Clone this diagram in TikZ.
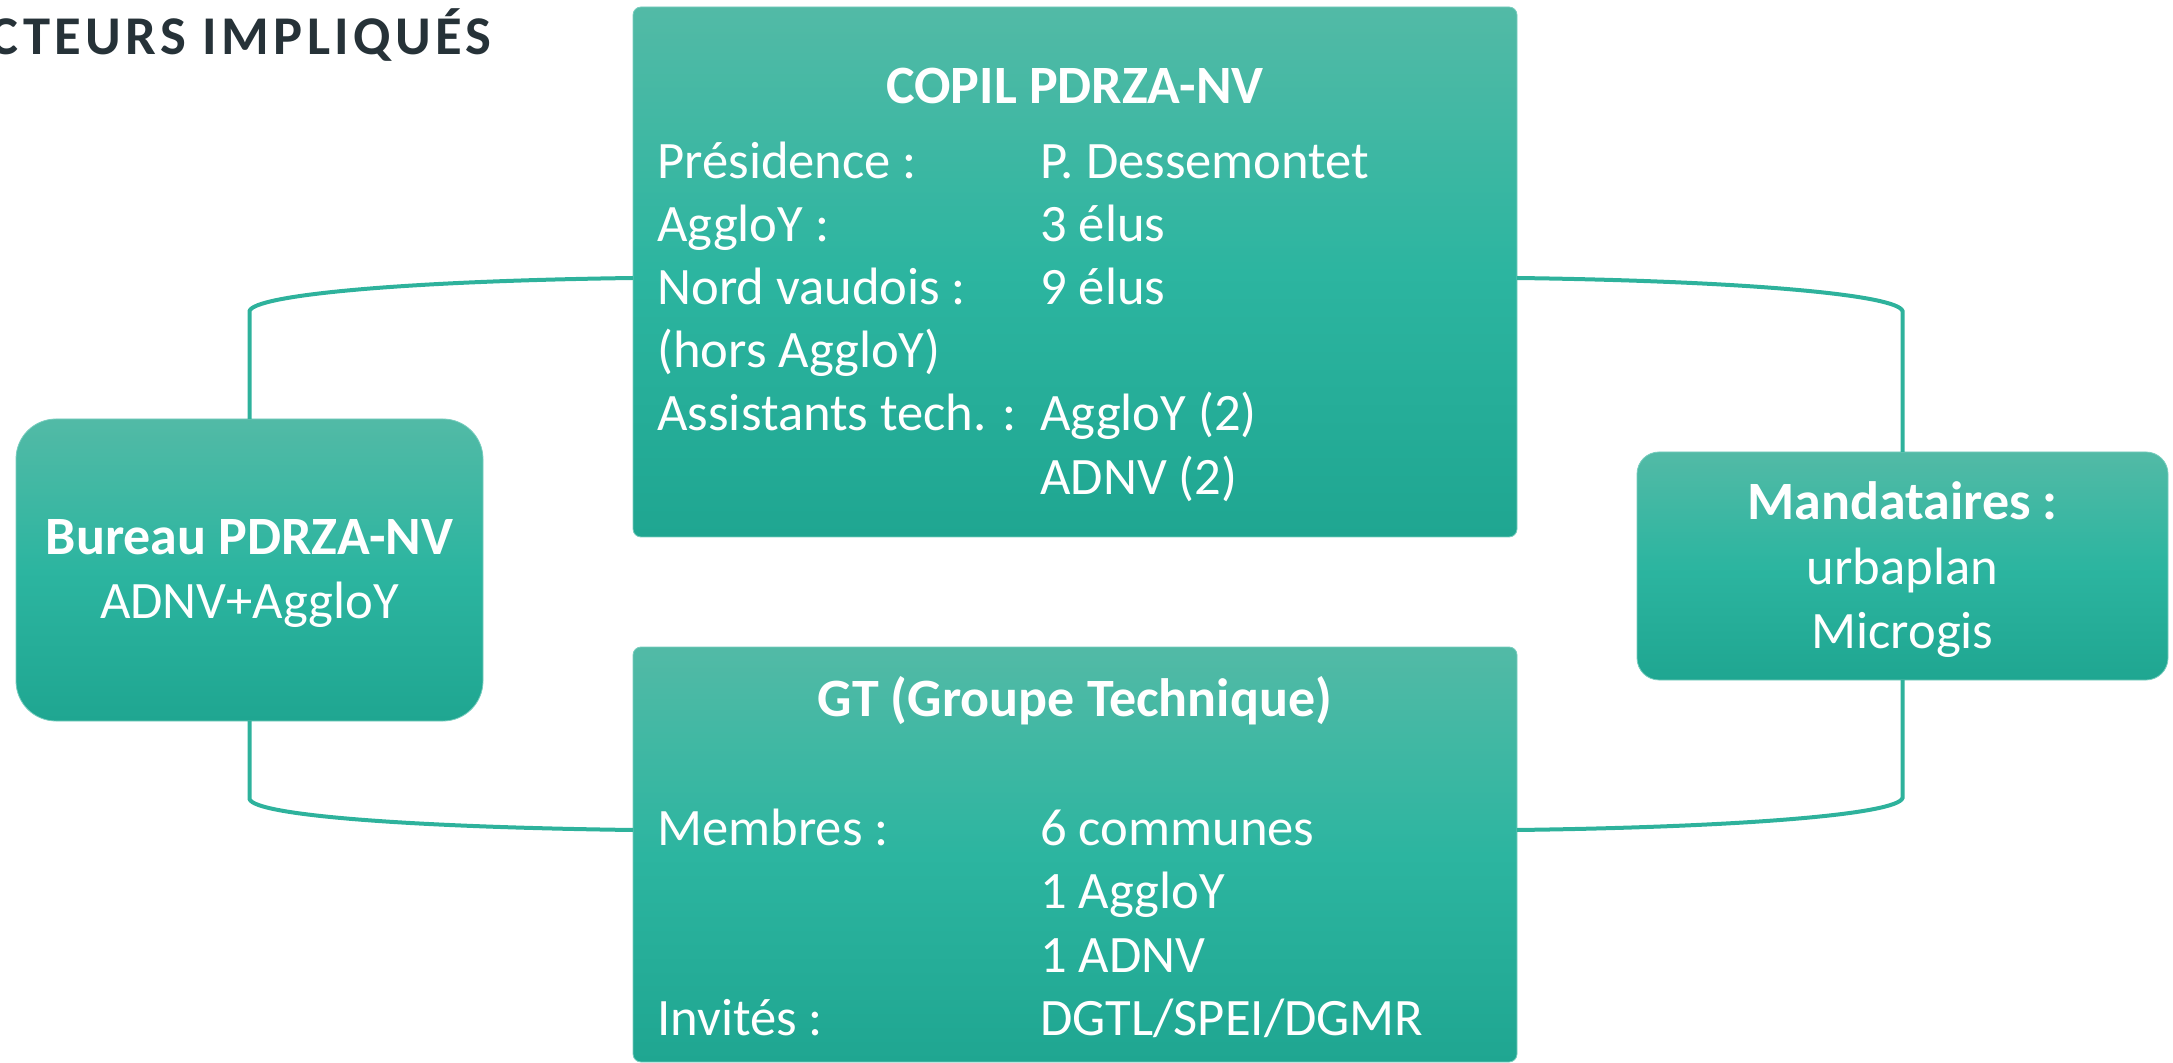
\documentclass[tikz,border=0pt]{standalone}
\usepackage{fontspec}
\setmainfont{Carlito}
\newfontfamily\titlefont[LetterSpace=8]{Carlito}
\definecolor{boxtop}{RGB}{82,186,166}
\definecolor{boxmid}{RGB}{44,181,160}
\definecolor{boxbot}{RGB}{31,166,145}
\definecolor{boxedge}{RGB}{120,205,190}
\definecolor{conncol}{RGB}{46,178,156}
\definecolor{titlecol}{RGB}{38,50,56}
\begin{document}
\begin{tikzpicture}[x=0.5pt,y=-0.5pt,
  box/.style={rounded corners=#1, top color=boxtop, bottom color=boxbot, middle color=boxmid, draw=boxedge, line width=0.4pt, inner sep=0pt, outer sep=0pt},
  conn/.style={draw=conncol, line width=2pt},
  txt/.style={font=\fontsize{26.3}{30}\selectfont, text=white, inner sep=0pt, anchor=base west},
  ctxt/.style={font=\fontsize{26.3}{30}\selectfont, text=white, inner sep=0pt, anchor=base},
  hd/.style={font=\fontsize{27}{30}\selectfont\bfseries, text=white, inner sep=0pt, anchor=base},
]
\useasboundingbox (0,0) rectangle (2173,1063);

% boxes
\node[box=4pt, minimum width=442pt, minimum height=265pt] (copil) at (1075,272) {};
\node[box=4pt, minimum width=442pt, minimum height=207.5pt] (gt) at (1075,854.5) {};
\node[box=20pt, minimum width=233.5pt, minimum height=151pt] (bureau) at (249.5,570) {};
\node[box=11pt, minimum width=265.5pt, minimum height=114pt] (mand) at (1902.5,566) {};

% connectors
\coordinate (ly1) at (0,278);
\coordinate (ly2) at (0,830);
\draw[conn] (bureau.north) -- ++(0,-108) .. controls +(5,-16) and +(-230,3) .. (copil.west |- ly1);
\draw[conn] (bureau.south) -- ++(0,78) .. controls +(5,16) and +(-230,-3) .. (gt.west |- ly2);
\draw[conn] (mand.north) -- ++(0,-141) .. controls +(-5,-16) and +(230,3) .. (copil.east |- ly1);
\draw[conn] (mand.south) -- ++(0,118) .. controls +(-5,16) and +(230,-3) .. (gt.east |- ly2);

% title
\node[font=\titlefont\fontsize{27.3}{30}\selectfont\bfseries, text=titlecol, inner sep=0pt, anchor=base east] (title) at (492,55) {CTEURS IMPLIQUÉS};

% COPIL
\node[hd] (copilh) at (1075,104) {COPIL PDRZA-NV};
\node[txt] (c1a) at (657,179) {Présidence :};
\node[txt] (c1b) at (1040,179) {P. Dessemontet};
\node[txt] (c2a) at (657,242) {AggloY :};
\node[txt] (c2b) at (1040,242) {3 élus};
\node[txt] (c3a) at (657,305) {Nord vaudois :};
\node[txt] (c3b) at (1040,305) {9 élus};
\node[txt] (c4a) at (657,368) {(hors AggloY)};
\node[txt] (c5a) at (657,431) {Assistants tech. :};
\node[txt] (c5b) at (1040,431) {AggloY (2)};
\node[txt] (c6b) at (1040,495) {ADNV (2)};

% GT
\node[hd] (gth) at (1075,716) {GT (Groupe Technique)};
\node[txt] (g1a) at (657,845) {Membres :};
\node[txt] (g1b) at (1040,845) {6 communes};
\node[txt] (g2b) at (1040,908) {1 AggloY};
\node[txt] (g3b) at (1040,972) {1 ADNV};
\node[txt] (g4a) at (657,1035) {Invités :};
\node[txt] (g4b) at (1040,1035) {DGTL/SPEI/DGMR};

% Bureau
\node[hd] (bh) at (249.5,555) {Bureau PDRZA-NV};
\node[ctxt] (bt) at (249.5,618) {ADNV+AggloY};

% Mandataires
\node[hd] (mh) at (1902.5,520) {Mandataires :};
\node[ctxt] (m1) at (1902.5,584) {urbaplan};
\node[ctxt] (m2) at (1902.5,648) {Microgis};
\end{tikzpicture}
\end{document}
